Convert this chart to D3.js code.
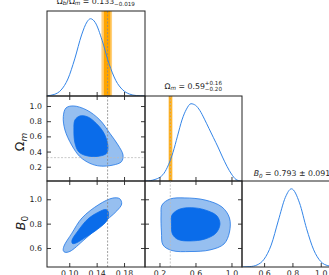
<!DOCTYPE html>
<html>
<head>
<meta charset="utf-8">
<script src="https://cdn.jsdelivr.net/npm/d3@7"></script>
<style>
  body { margin: 0; background: #fff; }
  text { font-family: "DejaVu Sans", sans-serif; }
</style>
</head>
<body>
<svg id="chart" width="329" height="275"></svg>
<script>
// Tick values for each parameter
var fracTicks = [0.10, 0.14, 0.18];
var omTicksX = [0.2, 0.6, 1.0];
var omTicksY = [0.2, 0.4, 0.6, 0.8, 1.0];
var bTicks = [0.6, 0.8, 1.0];

// Reference values (orange bands + dashed lines)
var fracRef = 0.156, fracBand = [0.147, 0.1625], fracCore = [0.1505, 0.160];
var omRef = 0.32, omBand = [0.30, 0.345], omCore = [0.308, 0.335];

// 1D marginals: [value, normalised density]
var fracPdf = [[0.068,0.004],[0.078,0.02],[0.088,0.077],[0.098,0.22],[0.108,0.48],[0.118,0.79],
  [0.126,0.96],[0.131,1.0],[0.138,0.95],[0.148,0.72],[0.158,0.42],[0.168,0.2],[0.178,0.08],
  [0.188,0.025],[0.198,0.006],[0.21,0.001]];
var omPdf = [[0.05,0],[0.10,0.005],[0.15,0.02],[0.20,0.045],[0.25,0.10],[0.30,0.21],[0.35,0.37],
  [0.40,0.58],[0.45,0.79],[0.50,0.93],[0.55,1.0],[0.60,0.98],[0.65,0.91],[0.70,0.80],[0.75,0.68],
  [0.80,0.56],[0.85,0.44],[0.90,0.31],[0.95,0.19],[1.00,0.09],[1.05,0.02],[1.10,0.0]];
var bPdf = [[0.45,0.001],[0.50,0.005],[0.55,0.026],[0.60,0.10],[0.65,0.28],[0.70,0.59],[0.75,0.89],
  [0.793,1.0],[0.85,0.82],[0.90,0.49],[0.95,0.22],[1.00,0.07],[1.05,0.017],[1.10,0.003],[1.15,0.0]];

// 2D contours (95% outer, 68% inner): [x, y]
var fracOm95 = [[0.0913,0.860],[0.0952,0.974],[0.1058,1.001],[0.1253,0.948],[0.1447,0.816],
  [0.1592,0.641],[0.1713,0.486],[0.1785,0.354],[0.1762,0.266],[0.164,0.222],[0.1447,0.209],
  [0.1301,0.245],[0.1156,0.332],[0.1035,0.486],[0.0937,0.684]];
var fracOm68 = [[0.1083,0.816],[0.1156,0.869],[0.1272,0.856],[0.1403,0.763],[0.1505,0.644],
  [0.1563,0.486],[0.1548,0.381],[0.1447,0.341],[0.1272,0.341],[0.1141,0.394],[0.1083,0.513],
  [0.1068,0.684]];
var fracB95 = [[0.0913,0.578],[0.0923,0.616],[0.1039,0.722],[0.1185,0.846],[0.1433,0.957],
  [0.1636,1.010],[0.1738,1.004],[0.1765,0.961],[0.1695,0.905],[0.1461,0.789],[0.1214,0.666],
  [0.1010,0.572],[0.0937,0.565]];
var fracB68 = [[0.1039,0.662],[0.1127,0.740],[0.1272,0.838],[0.1418,0.892],[0.1534,0.916],
  [0.1570,0.896],[0.1556,0.830],[0.1418,0.756],[0.1243,0.690],[0.1098,0.641],[0.1047,0.637]];
var omB95 = [[0.228,0.953],[0.317,1.002],[0.483,1.011],[0.706,0.994],[0.894,0.937],[0.978,0.846],
  [0.978,0.731],[0.917,0.633],[0.761,0.584],[0.539,0.571],[0.339,0.579],[0.239,0.625],
  [0.222,0.731],[0.217,0.871]];
var omB68 = [[0.339,0.871],[0.428,0.920],[0.594,0.929],[0.739,0.904],[0.839,0.863],[0.872,0.797],
  [0.828,0.723],[0.706,0.674],[0.539,0.658],[0.406,0.670],[0.344,0.715],[0.333,0.797]];

var darkBlue = "#0a6cea", lightBlue = "#96bff0", edgeBlue = "#1f76e6", lineBlue = "#3385e8";
var orange = "#ffa500", lightOrange = "#ffcf7a", ink = "#222";

var svg = d3.select("#chart");

// panel geometry
var cols = [[47, 145], [145, 242], [242, 342]];
var rows = [[11, 96], [96, 181], [181, 267]];

var xFrac = d3.scaleLinear().domain([0.0675, 0.2106]).range(cols[0]);
var xOm = d3.scaleLinear().domain([0.039, 1.117]).range(cols[1]);
var xB = d3.scaleLinear().domain([0.444, 1.150]).range(cols[2]);
var yOm = d3.scaleLinear().domain([0.012, 1.132]).range([rows[1][1], rows[1][0]]);
var yB = d3.scaleLinear().domain([0.444, 1.150]).range([rows[2][1], rows[2][0]]);

var defs = svg.append("defs");
var clipId = 0;
function panel(c, r) {
    var id = "clip" + (clipId++);
    defs.append("clipPath").attr("id", id).append("rect")
        .attr("x", cols[c][0]).attr("y", rows[r][0])
        .attr("width", cols[c][1] - cols[c][0]).attr("height", rows[r][1] - rows[r][0]);
    var g = svg.append("g");
    var inner = g.append("g").attr("clip-path", `url(#${id})`);
    return { g: g, inner: inner, c: c, r: r };
}

function border(p) {
    p.g.append("rect")
        .attr("x", cols[p.c][0]).attr("y", rows[p.r][0])
        .attr("width", cols[p.c][1] - cols[p.c][0]).attr("height", rows[p.r][1] - rows[p.r][0])
        .attr("fill", "none").attr("stroke", ink).attr("stroke-width", 1);
}

// Inward ticks; labels only where asked.
function axis(p, gen, scale, values, pos, fmt) {
    var a = gen(scale).tickValues(values).tickSize(-4).tickPadding(fmt ? (gen === d3.axisLeft ? 5 : 3) : 0)
        .tickFormat(fmt || "");
    var g = p.g.append("g")
        .attr("transform", (gen === d3.axisBottom || gen === d3.axisTop) ? `translate(0,${pos})` : `translate(${pos},0)`)
        .call(a);
    g.select(".domain").remove();
    g.selectAll("line").attr("stroke", ink).attr("stroke-width", 0.9);
    g.selectAll("text").attr("font-size", 7.8).attr("fill", ink).attr("font-family", "DejaVu Sans");
    g.attr("font-family", null).attr("font-size", null);
}

function band(p, xs, lo, hi, color) {
    p.inner.append("rect")
        .attr("x", xs(lo)).attr("y", rows[p.r][0])
        .attr("width", xs(hi) - xs(lo)).attr("height", rows[p.r][1] - rows[p.r][0])
        .attr("fill", color);
}

function vDash(p, xs, v, color) {
    p.inner.append("line")
        .attr("x1", xs(v)).attr("x2", xs(v)).attr("y1", rows[p.r][0]).attr("y2", rows[p.r][1])
        .attr("stroke", color).attr("stroke-width", 0.8).attr("stroke-dasharray", "2,1.5");
}

function hDash(p, ys, v, color) {
    p.inner.append("line")
        .attr("x1", cols[p.c][0]).attr("x2", cols[p.c][1]).attr("y1", ys(v)).attr("y2", ys(v))
        .attr("stroke", color).attr("stroke-width", 0.8).attr("stroke-dasharray", "2,1.5");
}

function pdf(p, xs, data) {
    var ys = d3.scaleLinear().domain([0, 1.1]).range([rows[p.r][1], rows[p.r][0]]);
    var line = d3.line().x(d => xs(d[0])).y(d => ys(d[1])).curve(d3.curveMonotoneX);
    p.inner.append("path").attr("d", line(data))
        .attr("fill", "none").attr("stroke", lineBlue).attr("stroke-width", 1);
}

function contours(p, xs, ys, outer, inner) {
    var shape = d3.line().x(d => xs(d[0])).y(d => ys(d[1])).curve(d3.curveCatmullRomClosed.alpha(0.5));
    p.inner.append("path").attr("d", shape(outer))
        .attr("fill", lightBlue).attr("stroke", edgeBlue).attr("stroke-width", 0.8);
    p.inner.append("path").attr("d", shape(inner))
        .attr("fill", darkBlue).attr("stroke", darkBlue).attr("stroke-width", 0.8);
}

var f2 = d3.format(".2f"), f1 = d3.format(".1f");

// Row 1: Omega_b/Omega_m marginal
var p11 = panel(0, 0);
band(p11, xFrac, fracBand[0], fracBand[1], lightOrange);
band(p11, xFrac, fracCore[0], fracCore[1], orange);
vDash(p11, xFrac, fracRef, "#888");
pdf(p11, xFrac, fracPdf);
axis(p11, d3.axisBottom, xFrac, fracTicks, rows[0][1]);
border(p11);

// Row 2
var p21 = panel(0, 1);
contours(p21, xFrac, yOm, fracOm95, fracOm68);
vDash(p21, xFrac, fracRef, "#888");
hDash(p21, yOm, omRef, "#bbb");
axis(p21, d3.axisTop, xFrac, fracTicks, rows[1][0]);
axis(p21, d3.axisBottom, xFrac, fracTicks, rows[1][1]);
axis(p21, d3.axisLeft, yOm, omTicksY, cols[0][0], f1);
axis(p21, d3.axisRight, yOm, omTicksY, cols[0][1]);
border(p21);

var p22 = panel(1, 1);
band(p22, xOm, omBand[0], omBand[1], lightOrange);
band(p22, xOm, omCore[0], omCore[1], orange);
vDash(p22, xOm, omRef, "#bbb");
pdf(p22, xOm, omPdf);
axis(p22, d3.axisBottom, xOm, omTicksX, rows[1][1]);
border(p22);

// Row 3
var p31 = panel(0, 2);
contours(p31, xFrac, yB, fracB95, fracB68);
vDash(p31, xFrac, fracRef, "#888");
axis(p31, d3.axisTop, xFrac, fracTicks, rows[2][0]);
axis(p31, d3.axisBottom, xFrac, fracTicks, rows[2][1], f2);
axis(p31, d3.axisLeft, yB, bTicks, cols[0][0], f1);
axis(p31, d3.axisRight, yB, bTicks, cols[0][1]);
border(p31);

var p32 = panel(1, 2);
contours(p32, xOm, yB, omB95, omB68);
vDash(p32, xOm, omRef, "#bbb");
axis(p32, d3.axisTop, xOm, omTicksX, rows[2][0]);
axis(p32, d3.axisBottom, xOm, omTicksX, rows[2][1], f1);
axis(p32, d3.axisLeft, yB, bTicks, cols[1][0]);
axis(p32, d3.axisRight, yB, bTicks, cols[1][1]);
border(p32);

var p33 = panel(2, 2);
pdf(p33, xB, bPdf);
axis(p33, d3.axisBottom, xB, bTicks, rows[2][1], f1);
border(p33);

// Titles with math-like sub/superscripts
var fs = 7.8, small = 5.6;
function title(cx, y, main, sup, sub) {
    var t = svg.append("text").attr("x", 0).attr("y", y).attr("font-size", fs).attr("fill", ink);
    main.forEach(function (m) {
        var s = t.append("tspan").text(m.t);
        if (m.sub) s.attr("font-size", small).attr("font-style", "italic").attr("dy", 1.6);
        if (m.back) s.attr("dy", -1.6);
        if (m.it) s.attr("font-style", "italic");
    });
    if (sup) {
        var a = t.append("tspan").attr("font-size", small).attr("dy", -3.2).text(sup);
        var len = a.node().getComputedTextLength();
        t.append("tspan").attr("font-size", small).attr("dx", -len).attr("dy", 6).text(sub);
    }
    var bb = t.node().getBBox();
    t.attr("transform", `translate(${cx - bb.width / 2 - bb.x},0)`);
}

title((cols[0][0] + cols[0][1]) / 2, 3.5,
    [{ t: "Ω" }, { t: "b", sub: true }, { t: "/Ω", back: true }, { t: "m", sub: true }, { t: " = 0.133", back: true }],
    "+0.017", "−0.019");
title((cols[1][0] + cols[1][1]) / 2, 88.5,
    [{ t: "Ω" }, { t: "m", sub: true }, { t: " = 0.59", back: true }],
    "+0.16", "−0.20");
title((cols[2][0] + cols[2][1]) / 2, 176,
    [{ t: "B", it: true }, { t: "0", sub: true }, { t: " = 0.793 ± 0.091", back: true }]);

// Axis labels
function yLabel(x, cy, main, subText, italic) {
    var t = svg.append("text")
        .attr("transform", `translate(${x},${cy}) rotate(-90)`)
        .attr("text-anchor", "middle").attr("font-size", 12.5).attr("fill", ink);
    var m = t.append("tspan").text(main);
    if (italic) m.attr("font-style", "italic");
    t.append("tspan").attr("font-size", 9).attr("dy", 2.5).text(subText)
        .attr("font-style", italic ? null : "italic");
}
yLabel(24, 142, "Ω", "m", false);
yLabel(25, 223, "B", "0", true);
</script>
</body>
</html>
